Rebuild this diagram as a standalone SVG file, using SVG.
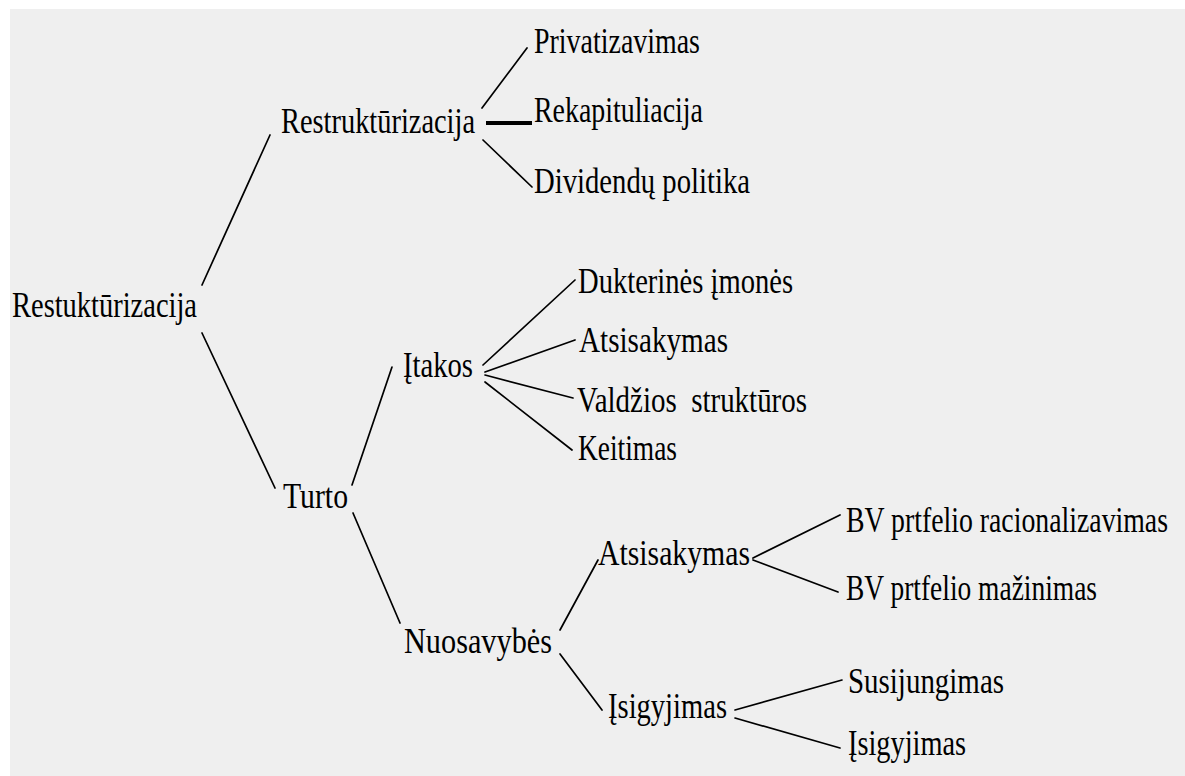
<svg xmlns="http://www.w3.org/2000/svg" width="1185" height="776" viewBox="0 0 1185 776">
<style>
text{font-family:"Liberation Serif","Times New Roman",serif;font-size:36px;fill:#000}
.c line{stroke:#000;stroke-width:1.7;stroke-linecap:round}
.c line.thick{stroke-width:4;stroke-linecap:butt}
</style>
<rect x="0" y="0" width="1185" height="776" fill="#ffffff"/>
<rect x="10" y="9" width="1175" height="767" fill="#efefef"/>
<g class="c" id="connectors">
<line x1="202" y1="285" x2="270" y2="135"/>
<line x1="202" y1="333" x2="275" y2="488"/>
<line x1="352" y1="485" x2="392" y2="367"/>
<line x1="353" y1="513" x2="400" y2="623"/>
<line x1="482" y1="108" x2="527" y2="48"/>
<line class="thick" x1="486" y1="123" x2="532" y2="123"/>
<line x1="483" y1="140" x2="532" y2="187"/>
<line x1="483" y1="365" x2="575" y2="280"/>
<line x1="485" y1="372" x2="575" y2="340"/>
<line x1="485" y1="375" x2="573" y2="398"/>
<line x1="485" y1="382" x2="572" y2="450"/>
<line x1="560" y1="630" x2="598" y2="560"/>
<line x1="560" y1="654" x2="602" y2="710"/>
<line x1="753" y1="558" x2="840" y2="515"/>
<line x1="753" y1="560" x2="838" y2="592"/>
<line x1="735" y1="710" x2="842" y2="680"/>
<line x1="735" y1="718" x2="840" y2="748"/>
</g>
<g id="n-root"><text x="12" y="317" textLength="185" lengthAdjust="spacingAndGlyphs">Restuktūrizacija</text></g>
<g id="n-restrukturizacija"><text x="281" y="133" textLength="194" lengthAdjust="spacingAndGlyphs">Restruktūrizacija</text></g>
<g id="n-privatizavimas"><text x="534" y="53" textLength="166" lengthAdjust="spacingAndGlyphs">Privatizavimas</text></g>
<g id="n-rekapituliacija"><text x="534" y="122" textLength="169" lengthAdjust="spacingAndGlyphs">Rekapituliacija</text></g>
<g id="n-dividendu"><text x="534" y="193" textLength="216" lengthAdjust="spacingAndGlyphs">Dividendų politika</text></g>
<g id="n-turto"><text x="283" y="508" textLength="65" lengthAdjust="spacingAndGlyphs">Turto</text></g>
<g id="n-itakos"><text x="403" y="377" textLength="70" lengthAdjust="spacingAndGlyphs">Įtakos</text></g>
<g id="n-dukterines"><text x="578" y="293" textLength="215" lengthAdjust="spacingAndGlyphs">Dukterinės įmonės</text></g>
<g id="n-atsisakymas1"><text x="579" y="352" textLength="149" lengthAdjust="spacingAndGlyphs">Atsisakymas</text></g>
<g id="n-valdzios"><text x="577" y="412" textLength="230" lengthAdjust="spacingAndGlyphs" xml:space="preserve">Valdžios  struktūros</text></g>
<g id="n-keitimas"><text x="578" y="460" textLength="99" lengthAdjust="spacingAndGlyphs">Keitimas</text></g>
<g id="n-nuosavybes"><text x="404" y="653" textLength="148" lengthAdjust="spacingAndGlyphs">Nuosavybės</text></g>
<g id="n-atsisakymas2"><text x="598" y="565" textLength="152" lengthAdjust="spacingAndGlyphs">Atsisakymas</text></g>
<g id="n-isigyjimas1"><text x="608" y="718" textLength="119" lengthAdjust="spacingAndGlyphs">Įsigyjimas</text></g>
<g id="n-bv-rac"><text transform="translate(846,532) scale(0.79,1)" x="0" y="0" textLength="407.6" lengthAdjust="spacingAndGlyphs">BV prtfelio racionalizavimas</text></g>
<g id="n-bv-maz"><text x="846" y="600" textLength="251" lengthAdjust="spacingAndGlyphs">BV prtfelio mažinimas</text></g>
<g id="n-susijungimas"><text x="848" y="693" textLength="156" lengthAdjust="spacingAndGlyphs">Susijungimas</text></g>
<g id="n-isigyjimas2"><text x="848" y="755" textLength="118" lengthAdjust="spacingAndGlyphs">Įsigyjimas</text></g>
</svg>
